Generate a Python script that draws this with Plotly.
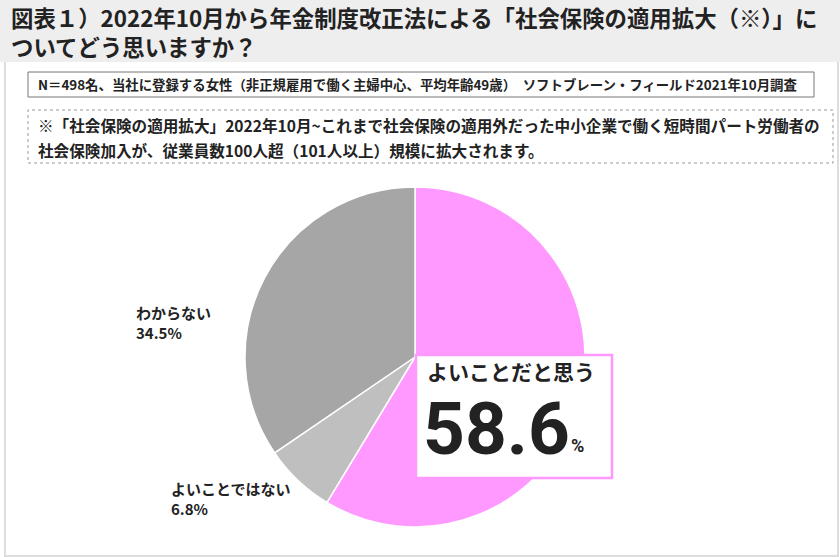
import plotly.graph_objects as go

labels = ["よいことだと思う", "よいことではない", "わからない"]
values = [58.6, 6.8, 34.5]
colors = ["#FF99FF", "#BFBFBF", "#A6A6A6"]

title_lines = ["図表１）2022年10月から年金制度改正法による「社会保険の適用拡大（※）」に",
               "ついてどう思いますか？"]
note1 = "N＝498名、当社に登録する女性（非正規雇用で働く主婦中心、平均年齢49歳）　ソフトブレーン・フィールド2021年10月調査"
note2 = ["※「社会保険の適用拡大」2022年10月~これまで社会保険の適用外だった中小企業で働く短時間パート労働者の",
         "社会保険加入が、従業員数100人超（101人以上）規模に拡大されます。"]

W, H = 840, 557
FONT = "Noto Sans CJK JP"

def px(x):
    return x / W

def py(y):
    return 1 - y / H

fig = go.Figure(go.Pie(
    labels=labels, values=values, sort=False, direction="clockwise", rotation=0,
    marker=dict(colors=colors, line=dict(color="white", width=1.5)),
    textinfo="none", hoverinfo="label+percent", showlegend=False,
    domain=dict(x=[px(245), px(585)], y=[py(527), py(187)]),
))

shapes = [
    dict(type="rect", xref="paper", yref="paper", x0=px(5), x1=px(838), y0=py(556), y1=py(0),
         line=dict(color="#DDDDDD", width=2), fillcolor="white", layer="below"),
    dict(type="rect", xref="paper", yref="paper", x0=px(0), x1=px(840), y0=py(62), y1=py(0),
         line=dict(width=0), fillcolor="#EEEEEE", layer="below"),
    dict(type="rect", xref="paper", yref="paper", x0=px(28), x1=px(814), y0=py(97), y1=py(72),
         line=dict(color="#777777", width=1), fillcolor="white", layer="below"),
    dict(type="rect", xref="paper", yref="paper", x0=px(28), x1=px(833), y0=py(163), y1=py(110),
         line=dict(color="#999999", width=1, dash="dot"), fillcolor="white", layer="below"),
    dict(type="rect", xref="paper", yref="paper", x0=px(416), x1=px(612), y0=py(478), y1=py(355),
         line=dict(color="#FF99FF", width=2.5), fillcolor="white", layer="above"),
]

def ann(text, x, y, size, xanchor="left", yanchor="middle", color="#222222", family=FONT, align="left"):
    return dict(text=text, x=px(x), y=py(y), xref="paper", yref="paper",
                xanchor=xanchor, yanchor=yanchor, showarrow=False, align=align,
                font=dict(family=family, size=size, color=color))

annotations = [
    ann("<b>" + title_lines[0] + "<br>" + title_lines[1] + "</b>", 9, 32, 22.4),
    ann("<b>" + note1 + "</b>", 36, 84, 13.4),
    ann("<b>" + note2[0] + "</b>", 36, 125, 15.6),
    ann("<b>" + note2[1] + "</b>", 36, 150, 15.6),
    ann("<b>" + labels[2] + "<br>%.1f%%</b>" % values[2], 134, 322, 15),
    ann("<b>" + labels[1] + "<br>%.1f%%</b>" % values[1], 169, 498, 15),
    ann("<b>" + labels[0] + "</b>", 425, 371, 21),
    ann("<b>%.1f</b>" % values[0], 421, 429, 73, family="Roboto"),
    ann("<b>%</b>", 569, 445, 18, family="Roboto"),
]

fig.update_layout(
    width=W, height=H, margin=dict(l=0, r=0, t=0, b=0),
    paper_bgcolor="white", plot_bgcolor="white",
    shapes=shapes, annotations=annotations,
)

fig.write_html("out.html")
